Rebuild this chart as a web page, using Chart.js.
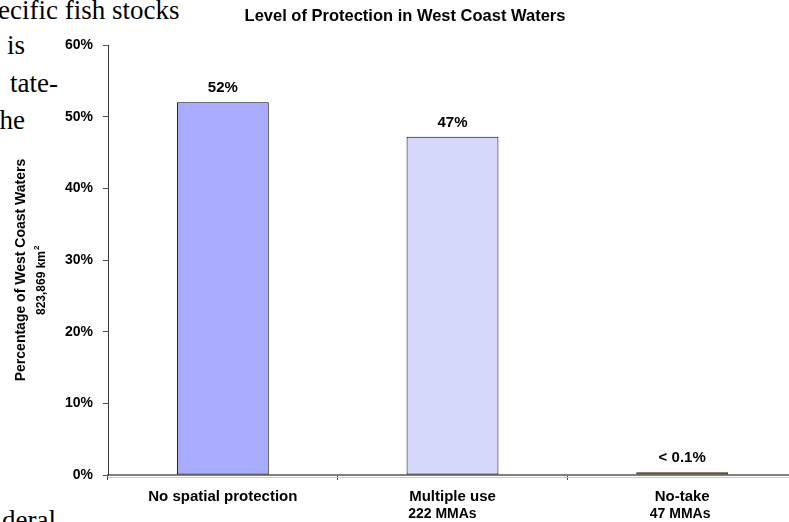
<!DOCTYPE html>
<html>
<head>
<meta charset="utf-8">
<script src="https://cdn.jsdelivr.net/npm/chart.js@4.4.1/dist/chart.umd.min.js"></script>
<style>
  html, body { margin: 0; padding: 0; background: #fff; }
  body { width: 789px; height: 522px; overflow: hidden; position: relative; }
  .doc { position: absolute; font-family: "Liberation Serif", serif; font-size: 27px; line-height: 1; color: #000; white-space: nowrap; }
  #wrap { position: absolute; left: 0; top: 0; width: 800px; height: 522px; }
</style>
</head>
<body>
<!-- text of the page behind the chart -->
<div class="doc" style="left:-26px; top:-3px;">specific fish stocks</div>
<div class="doc" style="left:7px; top:32px;">is</div>
<div class="doc" style="left:10px; top:70px;">tate-</div>
<div class="doc" style="left:-8px; top:107px;">the</div>
<div class="doc" style="left:2px; top:507px;">deral</div>

<div id="wrap"><canvas id="chart" width="800" height="522"></canvas></div>

<script>
// ---- data ----
const categories = ['No spatial protection', 'Multiple use', 'No-take'];
const subLabels = ['', '222 MMAs', '47 MMAs'];
const shares = [52, 47.2, 0.4];          // % of West Coast waters
const shareLabels = ['52%', '47%', '< 0.1%'];
const yTicks = [0, 10, 20, 30, 40, 50, 60];

const barColors = ['#A8ABFE', '#D5D7FB', '#5C3D08'];
const FONT = "Arial, 'Liberation Sans', sans-serif";

// labels above the bars
const valueLabels = {
    id: 'valueLabels',
    afterDatasetsDraw(chart) {
        const ctx = chart.ctx;
        const meta = chart.getDatasetMeta(0);
        ctx.save();
        ctx.font = 'bold 15px ' + FONT;
        ctx.fillStyle = '#000';
        ctx.textAlign = 'center';
        ctx.textBaseline = 'middle';
        meta.data.forEach((bar, i) => {
            ctx.fillText(shareLabels[i], bar.x, bar.y - 14);
        });
        ctx.restore();
    }
};

// title, axis title, second line of category labels, orange rule under x axis
const decorations = {
    id: 'decorations',
    afterDraw(chart) {
        const ctx = chart.ctx;
        const xs = chart.scales.x;
        const area = chart.chartArea;
        ctx.save();

        ctx.strokeStyle = '#F5C77E';
        ctx.lineWidth = 1;
        ctx.beginPath();
        ctx.moveTo(area.left, area.bottom + 2.5);
        ctx.lineTo(chart.width, area.bottom + 2.5);
        ctx.stroke();

        ctx.fillStyle = '#000';
        ctx.textBaseline = 'middle';
        ctx.textAlign = 'center';
        ctx.font = 'bold 16.5px ' + FONT;
        ctx.fillText('Level of Protection in West Coast Waters', 405, 16);

        // rotated y title
        ctx.save();
        ctx.translate(21, 270);
        ctx.rotate(-Math.PI / 2);
        ctx.font = 'bold 14px ' + FONT;
        ctx.fillText('Percentage of West Coast Waters', 0, 0);
        ctx.restore();

        ctx.save();
        ctx.translate(42, 280);
        ctx.rotate(-Math.PI / 2);
        ctx.font = 'bold 12px ' + FONT;
        const main = '823,869 km';
        const w = ctx.measureText(main).width;
        ctx.textAlign = 'left';
        ctx.fillText(main, -w / 2 - 3, 0);
        ctx.font = 'bold 8px ' + FONT;
        ctx.fillText('2', w / 2 - 2, -5);
        ctx.restore();

        // second line under the categories
        subLabels.forEach((txt, i) => {
            if (!txt) return;
            const cx = xs.getPixelForValue(i);
            if (i === 1) {
                ctx.font = 'bold 15px ' + FONT;
                const mw = ctx.measureText(categories[i]).width;
                ctx.font = 'bold 14px ' + FONT;
                ctx.textAlign = 'left';
                ctx.fillText(txt, cx - mw / 2 - 1, 514);
            } else {
                ctx.font = 'bold 14px ' + FONT;
                ctx.textAlign = 'center';
                ctx.fillText(txt, cx - 2, 514);
            }
        });
        ctx.restore();
    }
};

new Chart(document.getElementById('chart'), {
    type: 'bar',
    data: {
        labels: categories,
        datasets: [{
            data: shares,
            backgroundColor: barColors,
            borderColor: ['#000', '#000', '#3a2505'],
            borderWidth: 1,
            borderSkipped: false,
            barPercentage: 0.4,
            categoryPercentage: 1
        }]
    },
    options: {
        responsive: false,
        animation: false,
        layout: { padding: { top: 45, right: 3, left: 0, bottom: 0 } },
        plugins: {
            legend: { display: false },
            tooltip: { enabled: false }
        },
        scales: {
            x: {
                offset: true,
                grid: { drawOnChartArea: false, tickLength: 5, color: '#444', offset: true },
                border: { color: '#808080', width: 2 },
                ticks: { color: '#000', font: { family: FONT, size: 15, weight: 'bold' }, padding: 8, maxRotation: 0 },
                afterFit(s) { s.height = 47; }
            },
            y: {
                min: 0,
                max: 60,
                afterBuildTicks(s) { s.ticks = yTicks.map(v => ({ value: v })); },
                grid: { drawOnChartArea: false, tickLength: 5, color: '#555' },
                border: { color: '#3a3a3a', width: 1 },
                ticks: {
                    color: '#000',
                    font: { family: FONT, size: 14, weight: 'bold' },
                    padding: 10,
                    callback: v => v + '%'
                },
                afterFit(s) { s.width = 108; }
            }
        }
    },
    plugins: [valueLabels, decorations]
});
</script>
</body>
</html>
